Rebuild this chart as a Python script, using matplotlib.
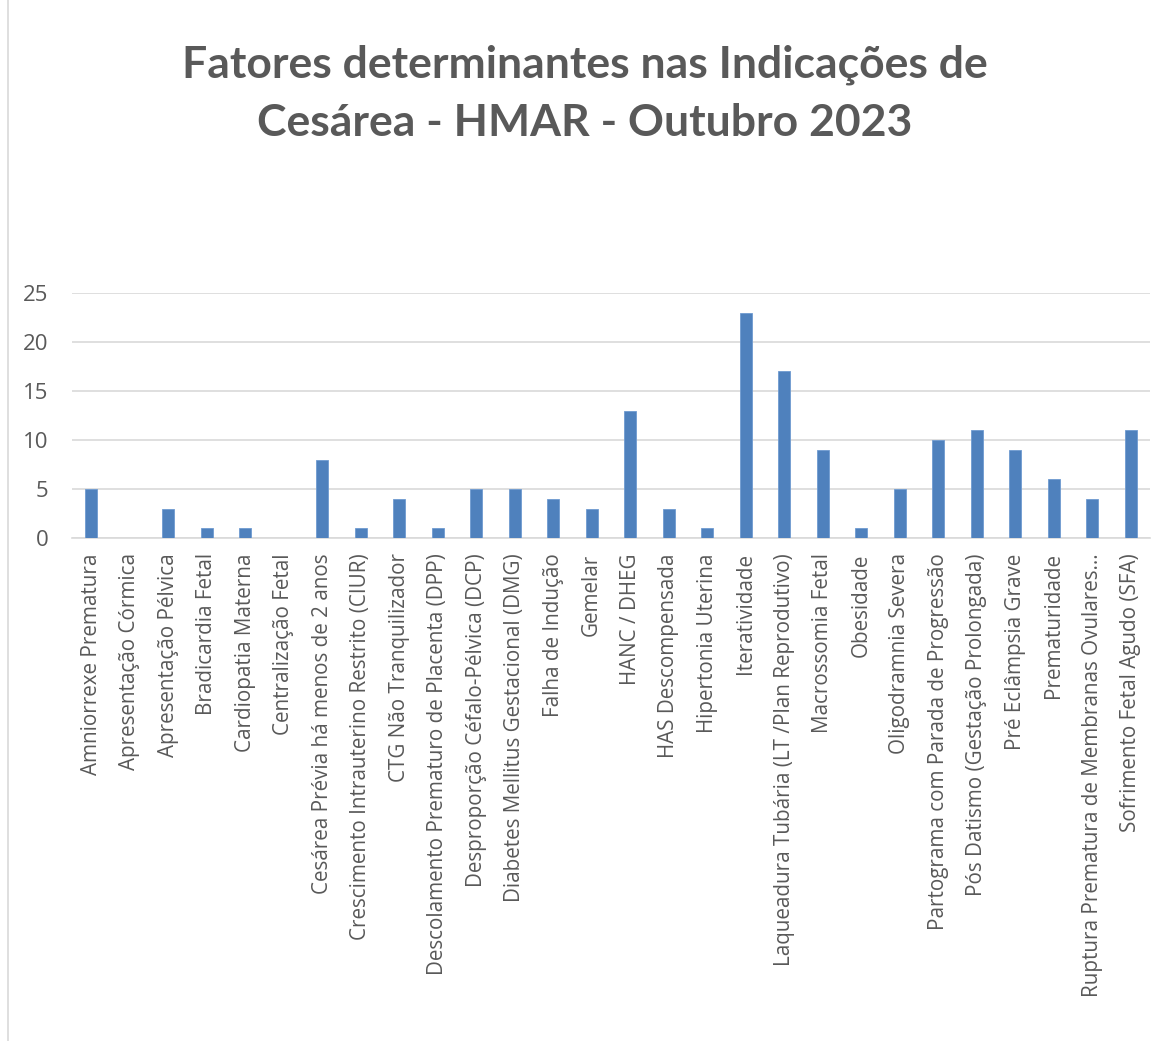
import matplotlib.pyplot as plt
import numpy as np

categorias = [
    "Amniorrexe Prematura", "Apresentação Córmica", "Apresentação Pélvica",
    "Bradicardia Fetal", "Cardiopatia Materna", "Centralização Fetal",
    "Cesárea Prévia há menos de 2 anos", "Crescimento Intrauterino Restrito (CIUR)",
    "CTG Não Tranquilizador", "Descolamento Prematuro de Placenta (DPP)",
    "Desproporção Céfalo-Pélvica (DCP)", "Diabetes Mellitus Gestacional (DMG)",
    "Falha de Indução", "Gemelar", "HANC / DHEG", "HAS Descompensada",
    "Hipertonia Uterina", "Iteratividade", "Laqueadura Tubária (LT /Plan Reprodutivo)",
    "Macrossomia Fetal", "Obesidade", "Oligodramnia Severa",
    "Partograma com Parada de Progressão", "Pós Datismo (Gestação Prolongada)",
    "Pré Eclâmpsia Grave", "Prematuridade",
    "Ruptura Prematura de Membranas Ovulares...", "Sofrimento Fetal Agudo (SFA)",
]
valores = [5, 0, 3, 1, 1, 0, 8, 1, 4, 1, 5, 5, 4, 3, 13, 3, 1, 23, 17, 9, 1, 5,
           10, 11, 9, 6, 4, 11]
yticks = [0, 5, 10, 15, 20, 25]

texto = "#595959"
grade = "#d9d9d9"

plt.rcParams["font.family"] = ["Open Sans", "DejaVu Sans"]

fig = plt.figure(figsize=(11.7, 10.41), dpi=100)
ax = fig.add_axes([72 / 1170, (1041 - 538) / 1041, 1078 / 1170, 245 / 1041])

x = np.arange(len(categorias))
ax.bar(x, valores, width=0.31, color="#4f81bd", edgecolor="#6f9bd1",
       linewidth=0.6, zorder=3)

ax.set_xlim(-0.5, len(categorias) - 0.5)
ax.set_ylim(0, 25)
ax.set_yticks(yticks)
ax.set_xticks(x)
ax.set_xticklabels(categorias, rotation=90, fontsize=14.9, color=texto)
for lab in ax.get_yticklabels():
    lab.set_fontsize(16)
    lab.set_color(texto)
ax.tick_params(axis="both", length=0)
ax.tick_params(axis="x", pad=11)
ax.tick_params(axis="y", pad=17)
ax.grid(axis="y", color=grade, linewidth=1.2, zorder=0)
for s in ["top", "right", "left"]:
    ax.spines[s].set_visible(False)
ax.spines["bottom"].set_color(grade)
ax.spines["bottom"].set_linewidth(1.2)

fig.text(0.5, 1 - 65 / 1041, "Fatores determinantes nas Indicações de",
         ha="center", va="center", fontsize=32, fontweight="bold",
         color=texto, family="Lato")
fig.text(0.5, 1 - 123 / 1041, "Cesárea - HMAR - Outubro 2023",
         ha="center", va="center", fontsize=32, fontweight="bold",
         color=texto, family="Lato")

# borda do gráfico
fig.add_artist(plt.Line2D([8 / 1170, 8 / 1170], [0, 1], color="#d9d9d9",
                          linewidth=1.2))

fig.savefig("out.png", dpi=100)
